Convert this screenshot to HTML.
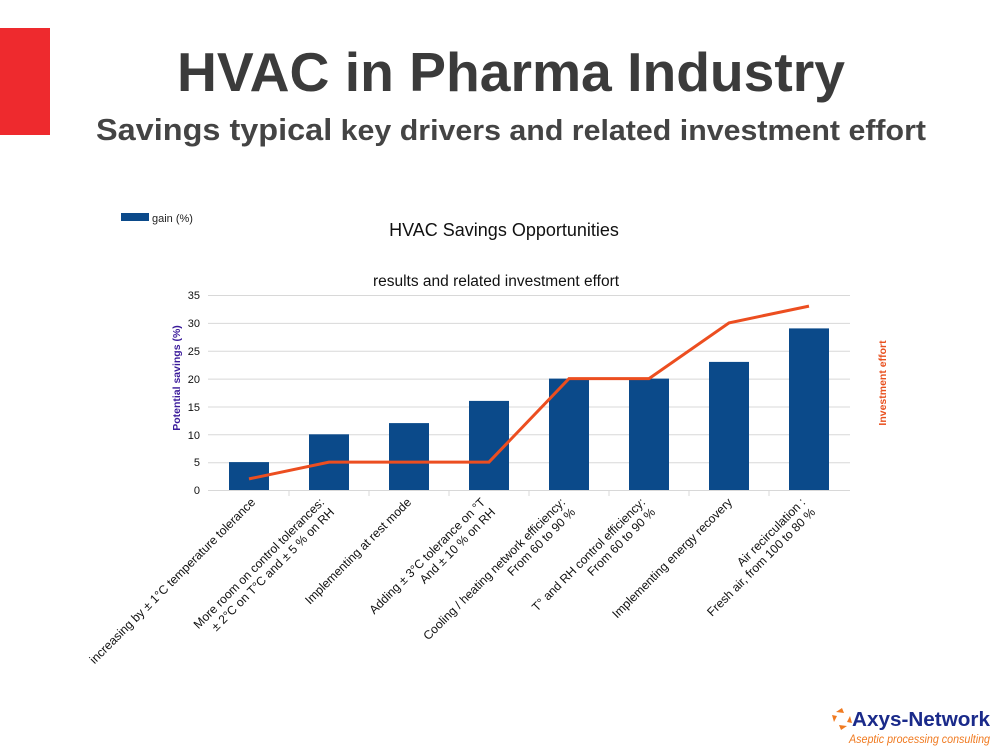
<!DOCTYPE html>
<html><head><style>
body{margin:0;width:1000px;height:750px;background:#fff;overflow:hidden;font-family:"Liberation Sans",sans-serif}
</style></head><body>
<svg width="1000" height="750" xmlns="http://www.w3.org/2000/svg" font-family="Liberation Sans, sans-serif">
<rect x="0" y="28" width="50" height="107" fill="#ee2a2e"/>
<text x="511" y="91" text-anchor="middle" font-size="55" font-weight="bold" fill="#3b3b3b" textLength="668" lengthAdjust="spacingAndGlyphs">HVAC in Pharma Industry</text>
<text x="511" y="140" text-anchor="middle" font-size="29" font-weight="bold" fill="#444" textLength="830" lengthAdjust="spacingAndGlyphs"><tspan font-size="31">Savings typical</tspan> key drivers and related investment effort</text>
<rect x="121" y="213" width="28" height="8" fill="#0b4a8a"/>
<text x="152" y="222" font-size="11" fill="#222">gain (%)</text>
<text x="504" y="236" text-anchor="middle" font-size="18" fill="#111">HVAC Savings Opportunities</text>
<text x="496" y="286" text-anchor="middle" font-size="15.5" fill="#111">results and related investment effort</text>
<g stroke="#d8d8d8" stroke-width="1">
<line x1="208" y1="295.5" x2="850" y2="295.5"/><line x1="208" y1="323.4" x2="850" y2="323.4"/><line x1="208" y1="351.3" x2="850" y2="351.3"/><line x1="208" y1="379.1" x2="850" y2="379.1"/><line x1="208" y1="407" x2="850" y2="407"/><line x1="208" y1="434.8" x2="850" y2="434.8"/><line x1="208" y1="462.7" x2="850" y2="462.7"/><line x1="208" y1="490.5" x2="850" y2="490.5"/>
<line x1="289" y1="490" x2="289" y2="496"/><line x1="369" y1="490" x2="369" y2="496"/><line x1="449" y1="490" x2="449" y2="496"/><line x1="529" y1="490" x2="529" y2="496"/><line x1="609" y1="490" x2="609" y2="496"/><line x1="689" y1="490" x2="689" y2="496"/><line x1="769" y1="490" x2="769" y2="496"/>
</g>
<g font-size="11" fill="#111" text-anchor="end">
<text x="200" y="299">35</text><text x="200" y="327">30</text><text x="200" y="355">25</text><text x="200" y="383">20</text><text x="200" y="411">15</text><text x="200" y="439">10</text><text x="200" y="466">5</text><text x="200" y="494">0</text>
</g>
<text transform="translate(180,378) rotate(-90)" text-anchor="middle" font-size="10.5" font-weight="bold" fill="#3a1a9a">Potential savings (%)</text>
<text transform="translate(886,383) rotate(-90)" text-anchor="middle" font-size="10.5" font-weight="bold" fill="#e8501e">Investment effort</text>
<g fill="#0b4a8a">
<rect x="229" y="462.1" width="40" height="27.9"/>
<rect x="309" y="434.3" width="40" height="55.7"/>
<rect x="389" y="423.1" width="40" height="66.9"/>
<rect x="469" y="400.9" width="40" height="89.1"/>
<rect x="549" y="378.6" width="40" height="111.4"/>
<rect x="629" y="378.6" width="40" height="111.4"/>
<rect x="709" y="361.9" width="40" height="128.1"/>
<rect x="789" y="328.4" width="40" height="161.6"/>
</g>
<polyline fill="none" stroke="#ec4e20" stroke-width="3" points="249,478.9 329,462.1 409,462.1 489,462.1 569,378.6 649,378.6 729,322.9 809,306.1"/>
<g font-size="12.2" fill="#111" text-anchor="end">
<text transform="translate(256,503) rotate(-45)">increasing by ± 1°C temperature tolerance</text>
<text transform="translate(325,503) rotate(-45)">More room on control tolerances:</text>
<text transform="translate(335,513) rotate(-45)">± 2°C  on T°C   and ± 5 % on RH</text>
<text transform="translate(412,503) rotate(-45)">Implementing at rest mode</text>
<text transform="translate(486,503) rotate(-45)">Adding ± 3°C tolerance on °T</text>
<text transform="translate(496,513) rotate(-45)">And ±  10 % on RH</text>
<text transform="translate(566,503) rotate(-45)">Cooling / heating network efficiency:</text>
<text transform="translate(576,513) rotate(-45)">From 60 to 90 %</text>
<text transform="translate(646,503) rotate(-45)">T° and RH control efficiency:</text>
<text transform="translate(656,513) rotate(-45)">From 60 to 90 %</text>
<text transform="translate(733,503) rotate(-45)">Implementing energy recovery</text>
<text transform="translate(806,503) rotate(-45)">Air recirculation :</text>
<text transform="translate(816,513) rotate(-45)">Fresh air, from 100 to 80 %</text>
</g>
<g fill="#f07a20">
<path d="M836 712 l6 -4 l2 5 z"/><path d="M847 726 l-6 4 l-2 -5 z"/><path d="M834 722 l-2 -7 l5 1 z"/><path d="M850 716 l2 7 l-5 -1 z"/>
</g>
<text x="852" y="726" font-size="20" font-weight="bold" fill="#1a2a8a" textLength="138" lengthAdjust="spacingAndGlyphs">Axys-Network</text>
<text x="849" y="743" font-size="12" font-style="italic" fill="#f07a20" textLength="141" lengthAdjust="spacingAndGlyphs">Aseptic processing consulting</text>
</svg>
</body></html>
